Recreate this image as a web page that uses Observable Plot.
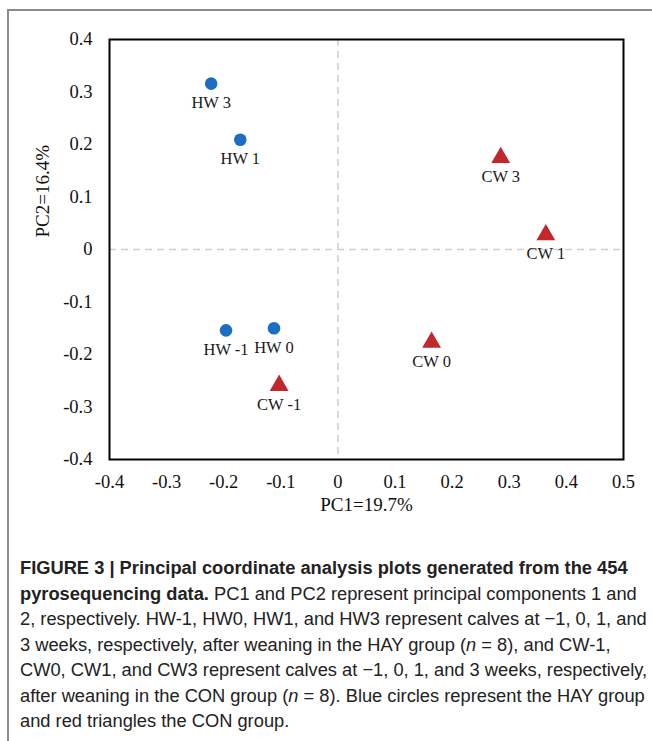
<!DOCTYPE html>
<html>
<head>
<meta charset="utf-8">
<script src="https://cdn.jsdelivr.net/npm/d3@7"></script>
<script src="https://cdn.jsdelivr.net/npm/@observablehq/plot@0.6"></script>
<style>
  html, body { margin: 0; padding: 0; background: #fff; }
  #wrap { position: relative; width: 652px; height: 741px; overflow: hidden; background: #fff; }
  #border { position: absolute; left: 7px; top: 9px; width: 700px; height: 760px;
            border-left: 2px solid #8c8c8c; border-top: 2px solid #8c8c8c; }
  #chart { position: absolute; left: 0; top: 0; }
  #caption { position: absolute; left: 20px; top: 555px; font-family: "Liberation Sans", Arial, sans-serif;
             font-size: 18.3px; line-height: 25.5px; color: #222; white-space: nowrap; }
  #caption b { font-weight: bold; }
</style>
</head>
<body>
<div id="wrap">
  <div id="border"></div>
  <div id="chart"></div>
  <div id="caption">
    <b>FIGURE 3 | Principal coordinate analysis plots generated from the 454</b><br>
    <b>pyrosequencing data.</b> PC1 and PC2 represent principal components 1 and<br>
    2, respectively. HW-1, HW0, HW1, and HW3 represent calves at −1, 0, 1, and<br>
    3 weeks, respectively, after weaning in the HAY group (<i>n</i> = 8), and CW-1,<br>
    CW0, CW1, and CW3 represent calves at −1, 0, 1, and 3 weeks, respectively,<br>
    after weaning in the CON group (<i>n</i> = 8). Blue circles represent the HAY group<br>
    and red triangles the CON group.
  </div>
</div>
<script>
// HAY group (blue circles)
const hayLabels = ["HW 3", "HW 1", "HW -1", "HW 0"];
const hayPC1 = [-0.222, -0.171, -0.196, -0.112];
const hayPC2 = [0.316, 0.209, -0.154, -0.150];

// CON group (red triangles)
const conLabels = ["CW 3", "CW 1", "CW 0", "CW -1"];
const conPC1 = [0.285, 0.364, 0.164, -0.103];
const conPC2 = [0.175, 0.028, -0.177, -0.259];

const xTicks = [-0.4, -0.3, -0.2, -0.1, 0, 0.1, 0.2, 0.3, 0.4, 0.5];
const xTickLabels = ["-0.4", "-0.3", "-0.2", "-0.1", "0", "0.1", "0.2", "0.3", "0.4", "0.5"];
const yTicks = [-0.4, -0.3, -0.2, -0.1, 0, 0.1, 0.2, 0.3, 0.4];
const yTickLabels = ["-0.4", "-0.3", "-0.2", "-0.1", "0", "0.1", "0.2", "0.3", "0.4"];
const xTitle = ["PC1=19.7%"];
const yTitle = ["PC2=16.4%"];

const hay = hayLabels.map((l, i) => ({label: l, x: hayPC1[i], y: hayPC2[i]}));
const con = conLabels.map((l, i) => ({label: l, x: conPC1[i], y: conPC2[i]}));
const all = hay.concat(con);

const serif = "'Liberation Serif', 'Times New Roman', serif";

const chart = Plot.plot({
  width: 652,
  height: 511,
  marginLeft: 109,
  marginRight: 29,
  marginTop: 39,
  marginBottom: 52,
  style: {fontFamily: serif, fontSize: "18px", color: "#111", background: "transparent", overflow: "visible"},
  x: {domain: [-0.4, 0.5]},
  y: {domain: [-0.4, 0.4]},
  marks: [
    Plot.ruleX([0], {stroke: "#cfcfcf", strokeWidth: 1.5, strokeDasharray: "7,5"}),
    Plot.ruleY([0], {stroke: "#cfcfcf", strokeWidth: 1.5, strokeDasharray: "7,5"}),
    Plot.frame({stroke: "#000", strokeWidth: 2}),
    Plot.axisX({ticks: xTicks, tickFormat: (d) => xTickLabels[xTicks.indexOf(d)], tickSize: 0, tickPadding: 15,
                fontSize: 18.5, fontFamily: serif, fill: "#111", label: null}),
    Plot.axisY({ticks: yTicks, tickFormat: (d) => yTickLabels[yTicks.indexOf(d)], tickSize: 0, tickPadding: 17,
                fontSize: 18.5, fontFamily: serif, fill: "#111", label: null}),
    Plot.text(xTitle, {frameAnchor: "bottom", dy: 45, text: (d) => d, fontSize: 19, fontFamily: serif, fill: "#111", lineAnchor: "middle"}),
    Plot.text(yTitle, {frameAnchor: "left", dx: -67, dy: -12, rotate: -90, text: (d) => d, fontSize: 19, fontFamily: serif, fill: "#111", lineAnchor: "middle"}),
    Plot.dot(hay, {x: "x", y: "y", r: 6.3, fill: "#1b6ec2", symbol: "circle"}),
    Plot.dot(con, {x: "x", y: "y", r: 7, fill: "#c1272d", symbol: "triangle"}),
    Plot.text(all, {x: "x", y: "y", text: "label", dy: 19, fontSize: 16.5, fill: "#1a1a1a", fontFamily: serif})
  ]
});
document.getElementById("chart").appendChild(chart);
</script>
</body>
</html>
